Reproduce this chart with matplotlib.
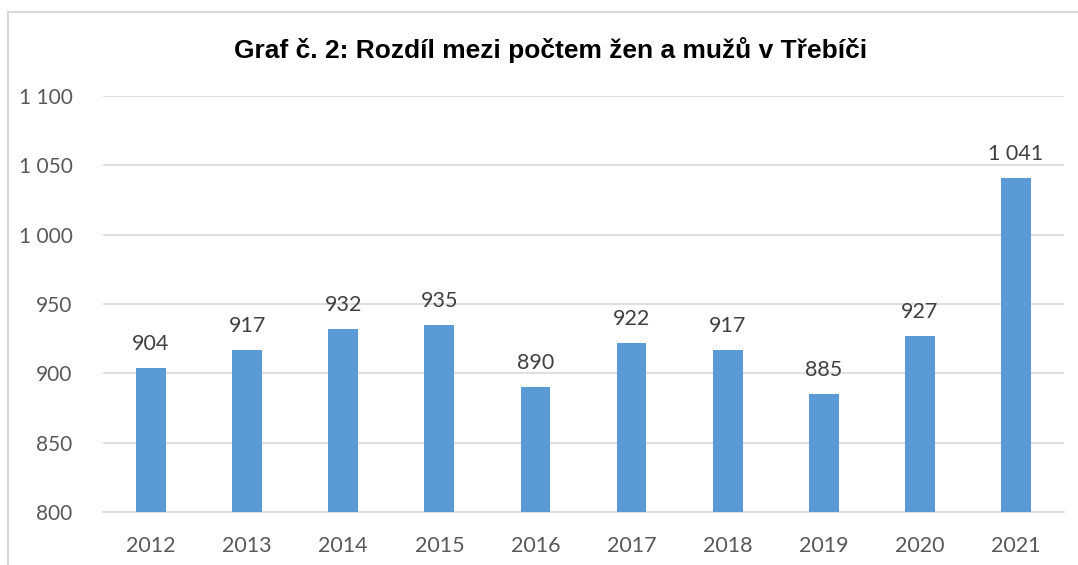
import numpy as np
import matplotlib.pyplot as plt
from matplotlib.patches import Rectangle

years = ["2012", "2013", "2014", "2015", "2016", "2017", "2018", "2019", "2020", "2021"]
values = [904, 917, 932, 935, 890, 922, 917, 885, 927, 1041]
y_ticks = [800, 850, 900, 950, 1000, 1050, 1100]


def fmt(v):
    # czech thousands separator
    return f"{v:,}".replace(",", " ")


W, H = 1078, 565
fig = plt.figure(figsize=(W / 100, H / 100), dpi=100)
fig.patch.set_facecolor("white")

# outer chart frame
fig.patches.append(Rectangle((8 / W, -0.1), 1.2, 1 - 12 / H + 0.1, transform=fig.transFigure,
                             fill=False, edgecolor="#d9d9d9", linewidth=1.5))

ax = fig.add_axes([103 / W, 1 - 512 / H, (1064 - 103) / W, (512 - 96) / H])
x = np.arange(len(years))
ax.bar(x, values, width=0.31, color="#5b9bd5", zorder=3)

ax.set_xlim(-0.5, len(years) - 0.5)
ax.set_ylim(800, 1100)
ax.set_yticks(y_ticks)
ax.set_yticklabels([fmt(v) for v in y_ticks])
ax.set_xticks(x)
ax.set_xticklabels(years)
ax.grid(axis="y", color="#d9d9d9", linewidth=1.2, zorder=0)
for s in ["top", "right", "left"]:
    ax.spines[s].set_visible(False)
ax.spines["bottom"].set_color("#d9d9d9")
ax.spines["bottom"].set_linewidth(1.2)
ax.tick_params(length=0, labelsize=15.5, labelcolor="#595959")
ax.tick_params(axis="x", pad=17)
ax.tick_params(axis="y", pad=22, labelsize=15)
for lab in ax.get_xticklabels() + ax.get_yticklabels():
    lab.set_fontfamily("Lato")

for xi, v in zip(x, values):
    ax.text(xi, v + 10, fmt(v), ha="center", va="bottom", fontsize=15.5,
            color="#404040", family="Lato")

fig.text(551 / W, 1 - 50 / H, "Graf č. 2: Rozdíl mezi počtem žen a mužů v Třebíči",
         ha="center", va="center", fontsize=19, fontweight="bold",
         family="Liberation Sans", color="black")

fig.savefig("out.png", dpi=100)
